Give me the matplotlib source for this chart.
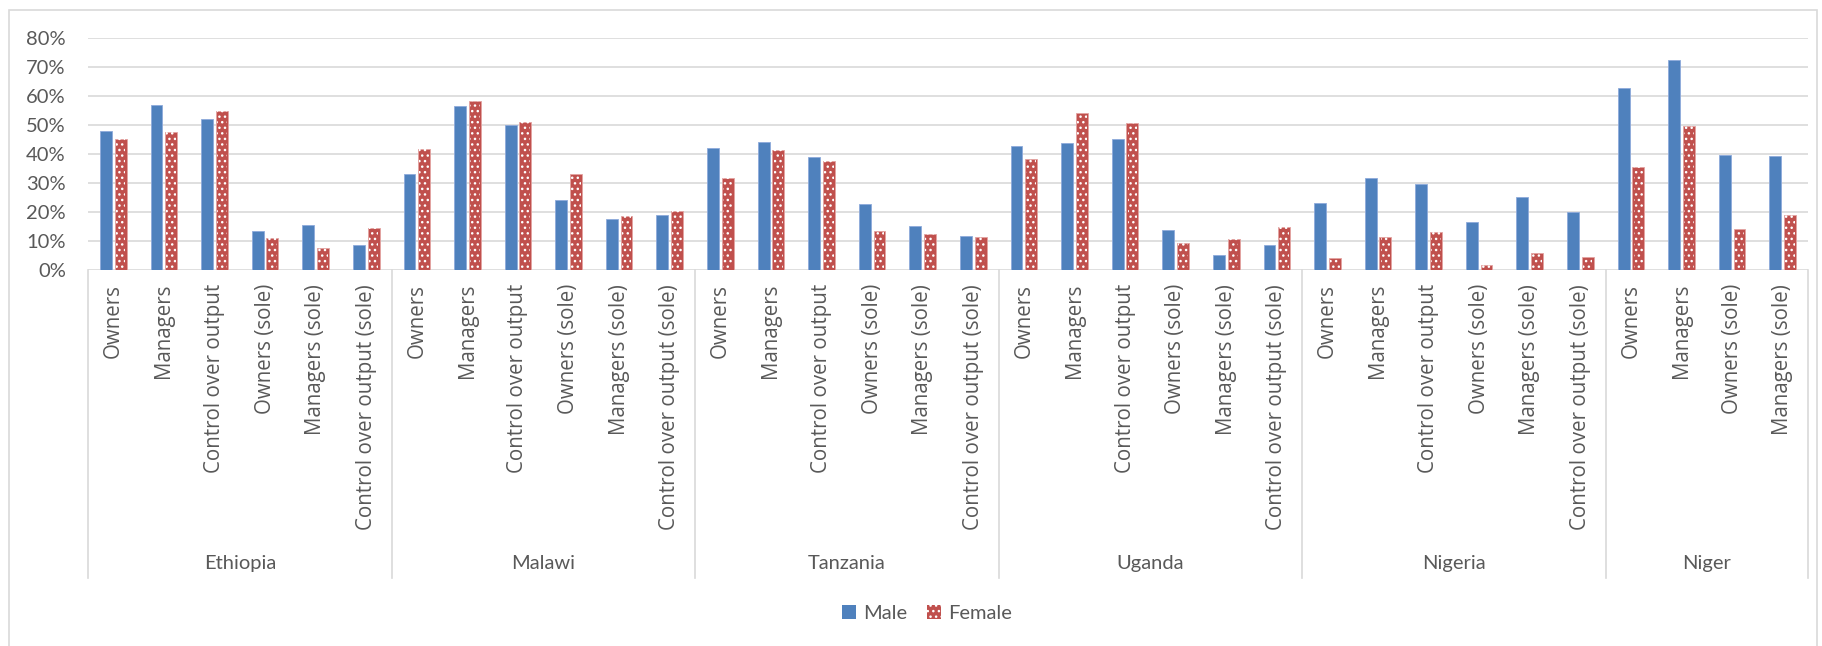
import matplotlib.pyplot as plt
import matplotlib.transforms as mtransforms
from matplotlib.patches import Patch, Rectangle
from matplotlib.ticker import PercentFormatter

# -------------------------------------------------------------------------------
# Data (percent)
countries = ['Ethiopia', 'Malawi', 'Tanzania', 'Uganda', 'Nigeria', 'Niger']

cats_full = ['Owners', 'Managers', 'Control over output', 'Owners (sole)',
             'Managers (sole)', 'Control over output (sole)']
cats_niger = ['Owners', 'Managers', 'Owners (sole)', 'Managers (sole)']

ethiopia_male = [48.0, 57.0, 52.1, 13.6, 15.5, 8.6]
ethiopia_female = [45.1, 47.7, 54.9, 10.9, 7.7, 14.4]
malawi_male = [33.2, 56.4, 50.0, 24.3, 17.6, 19.0]
malawi_female = [41.6, 58.3, 50.9, 33.0, 18.6, 20.3]
tanzania_male = [42.2, 44.3, 39.1, 22.9, 15.2, 11.8]
tanzania_female = [31.8, 41.4, 37.5, 13.4, 12.4, 11.4]
uganda_male = [42.8, 43.9, 45.2, 13.7, 5.3, 8.6]
uganda_female = [38.3, 54.1, 50.6, 9.3, 10.7, 14.8]
nigeria_male = [23.1, 31.6, 29.7, 16.6, 25.2, 20.0]
nigeria_female = [4.0, 11.3, 13.1, 1.8, 6.0, 4.4]
niger_male = [62.6, 72.3, 39.7, 39.2]
niger_female = [35.5, 49.8, 14.1, 18.9]

male = [ethiopia_male, malawi_male, tanzania_male, uganda_male, nigeria_male, niger_male]
female = [ethiopia_female, malawi_female, tanzania_female, uganda_female, nigeria_female, niger_female]
cats = [cats_full, cats_full, cats_full, cats_full, cats_full, cats_niger]

# -------------------------------------------------------------------------------
# Flatten into one x position per category
labels, m_vals, f_vals, groups = [], [], [], []
for i in range(len(countries)):
    labels += cats[i]
    m_vals += [v / 100 for v in male[i]]
    f_vals += [v / 100 for v in female[i]]
    groups.append(len(cats[i]))
x = list(range(len(labels)))

BLUE = '#4F81BD'
RED = '#C0504D'
GREY_TXT = '#595959'
GRID = '#D9D9D9'
LABEL_FONT = ['Lato', 'DejaVu Sans']
CAT_FONT = ['Open Sans', 'DejaVu Sans']

plt.rcParams['hatch.color'] = 'white'
plt.rcParams['hatch.linewidth'] = 1.0

fig = plt.figure(figsize=(18.22, 6.46), dpi=100)
ax = fig.add_axes([88 / 1822, 1 - 270 / 646, 1720 / 1822, 232 / 646])

w = 0.235
off = 0.145
ax.bar([p - off for p in x], m_vals, width=w, color=BLUE, edgecolor='#8EAADB', linewidth=0.6, zorder=2)
ax.bar([p + off for p in x], f_vals, width=w, color=RED, edgecolor='#E3A3A1', linewidth=0.6, zorder=2)
ax.bar([p + off for p in x], f_vals, width=w * 0.8, facecolor='none', edgecolor='white',
       linewidth=0, hatch='...', zorder=3)

ax.set_xlim(-0.5, len(labels) - 0.5)
ax.set_ylim(0, 0.8)
ax.set_yticks([i / 10 for i in range(9)])
ax.yaxis.set_major_formatter(PercentFormatter(1.0, decimals=0))
ax.yaxis.grid(True, color=GRID, linewidth=1.2)
ax.set_axisbelow(True)
for s in ax.spines.values():
    s.set_visible(False)

ax.set_xticks(x)
ax.set_xticklabels(labels, rotation=90, family=CAT_FONT, fontsize=14.8, color=GREY_TXT, va='top', ha='center')
ax.tick_params(axis='x', length=0, pad=10)
ax.tick_params(axis='y', length=0, pad=16, labelcolor=GREY_TXT)
for t in ax.get_yticklabels():
    t.set_family(LABEL_FONT)
    t.set_fontsize(14.5)

# -------------------------------------------------------------------------------
# Country group separators and names
trans = mtransforms.blended_transform_factory(ax.transData, ax.transAxes)
bounds = [-0.5]
for n in groups:
    bounds.append(bounds[-1] + n)
for b in bounds:
    ax.plot([b, b], [0, -1.328], transform=trans, color=GRID, linewidth=1.2, clip_on=False)
for i, c in enumerate(countries):
    mid = (bounds[i] + bounds[i + 1]) / 2
    ax.text(mid, -1.263, c, transform=trans, ha='center', va='center',
            family=LABEL_FONT, fontsize=14.5, color=GREY_TXT)

# -------------------------------------------------------------------------------
# Legend
handles = [Patch(facecolor=BLUE, edgecolor=BLUE, linewidth=0),
           Patch(facecolor=RED, edgecolor='white', linewidth=0, hatch='...')]
leg = fig.legend(handles, ['Male', 'Female'], loc='center', bbox_to_anchor=(0.5088, 0.05),
                 ncol=2, frameon=False, handlelength=0.7, handleheight=0.7,
                 handletextpad=0.35, columnspacing=1.0, prop={'family': LABEL_FONT, 'size': 14.5})
for t in leg.get_texts():
    t.set_color(GREY_TXT)

# outer chart border
fig.patches.append(Rectangle((9 / 1822, -0.01), (1817 - 9) / 1822, 1.01 - 10 / 646,
                             transform=fig.transFigure, fill=False, edgecolor=GRID, linewidth=1.2))

fig.savefig('out.png', dpi=100)
